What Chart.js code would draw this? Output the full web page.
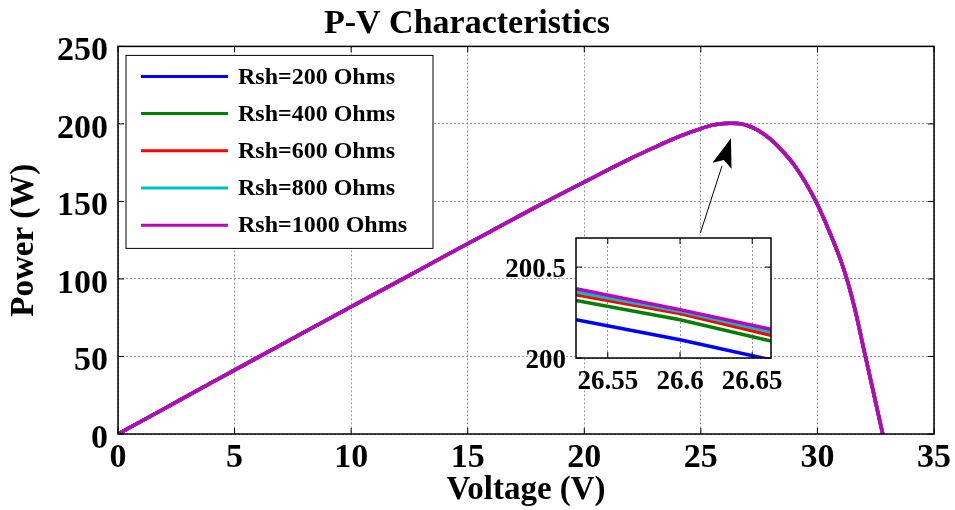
<!DOCTYPE html>
<html>
<head>
<meta charset="utf-8">
<script src="https://cdn.jsdelivr.net/npm/chart.js@4.4.1/dist/chart.umd.min.js"></script>
<style>
  body { margin: 0; background: #fff; }
  #wrap { position: relative; width: 955px; height: 510px; }
  #main { position: absolute; left: 0; top: 0; }
  #zoom { position: absolute; left: 480px; top: 222px; }
</style>
</head>
<body>
<div id="wrap">
  <canvas id="main" width="955" height="510"></canvas>
  <canvas id="zoom" width="310" height="178"></canvas>
</div>
<script>
// P-V curve (the five Rsh curves are on top of each other at this scale)
var voltage = [0, 2, 4, 6, 8, 10, 12, 14, 16, 18, 20, 21, 22, 23, 24, 25, 25.5, 26, 26.3, 26.6,
               27, 27.5, 28, 28.5, 29, 29.5, 30, 30.5, 31, 31.3, 31.6, 32, 32.4, 32.8];
var power = [0, 16.5, 33, 49.4, 65.8, 82.1, 98.3, 114.6, 130.8, 147, 162.5, 170.3, 177.8, 184.8, 191.5, 197, 199.2, 200.2, 200.4, 200.3,
             199, 195.5, 190, 182.5, 173.5, 162, 148, 131, 112, 98, 81, 54, 27, 0];

var seriesNames = ['Rsh=200 Ohms', 'Rsh=400 Ohms', 'Rsh=600 Ohms', 'Rsh=800 Ohms', 'Rsh=1000 Ohms'];
var seriesColors = ['#0000ff', '#008000', '#ff0000', '#00bfbf', '#bf00bf'];

// close-up just past the maximum power point
var zoomVoltage = [26.528, 26.6, 26.663];
var zoomPower = [
  [200.21, 200.10, 199.99],
  [200.317, 200.21, 200.093],
  [200.348, 200.244, 200.125],
  [200.363, 200.257, 200.143],
  [200.381, 200.266, 200.158]
];

var xTicksMain = { min: 0, max: 35, step: 5 };
var yTicksMain = { min: 0, max: 250, step: 50 };
var xTicksZoom = { min: 26.528, max: 26.663, step: 0.05 };
var yTicksZoom = { min: 200, max: 200.66, step: 0.5 };

// arrow pointing from the close-up to the peak [V, P]
var arrowFrom = [24.98, 129.7];
var arrowTo = [26.29, 190.8];

Chart.defaults.font.family = '"Times New Roman", "Liberation Serif", serif';
Chart.defaults.font.weight = 'bold';
Chart.defaults.color = '#000';

function points(xs, ys) {
  return xs.map(function (x, i) { return { x: x, y: ys[i] }; });
}

function line(ctx, x1, y1, x2, y2) {
  ctx.beginPath();
  ctx.moveTo(x1, y1);
  ctx.lineTo(x2, y2);
  ctx.stroke();
}

// white background, box around the axes and inward tick marks
function framePlugin(fillAll) {
  return {
    id: 'frame',
    beforeDraw: function (chart) {
      var ctx = chart.ctx, a = chart.chartArea;
      ctx.save();
      ctx.fillStyle = '#fff';
      if (fillAll) ctx.fillRect(0, 0, chart.width, chart.height);
      else ctx.fillRect(a.left, a.top, a.right - a.left, a.bottom - a.top);
      ctx.restore();
    },
    afterDatasetsDraw: function (chart) {
      var ctx = chart.ctx, a = chart.chartArea, sx = chart.scales.x, sy = chart.scales.y;
      ctx.save();
      ctx.strokeStyle = '#000';
      ctx.lineWidth = 1;
      sx.ticks.forEach(function (t) {
        var p = sx.getPixelForValue(t.value);
        line(ctx, p, a.bottom, p, a.bottom - 6);
        line(ctx, p, a.top, p, a.top + 6);
      });
      sy.ticks.forEach(function (t) {
        var p = sy.getPixelForValue(t.value);
        line(ctx, a.left, p, a.left + 6, p);
        line(ctx, a.right, p, a.right - 6, p);
      });
      ctx.lineWidth = 1.5;
      ctx.strokeRect(a.left, a.top, a.right - a.left, a.bottom - a.top);
      ctx.restore();
    }
  };
}

var legendBox = {
  id: 'legendBox',
  afterDraw: function (chart) {
    var ctx = chart.ctx, a = chart.chartArea;
    var x = a.left + 8, y = a.top + 9, w = 307, h = 193;
    ctx.save();
    ctx.fillStyle = '#fff';
    ctx.fillRect(x, y, w, h);
    ctx.strokeStyle = '#000';
    ctx.lineWidth = 1;
    ctx.strokeRect(x, y, w, h);
    ctx.font = 'bold 24px "Times New Roman", "Liberation Serif", serif';
    ctx.textBaseline = 'middle';
    // legend rows follow the dataset list, blue first
    seriesNames.forEach(function (name, i) {
      var ry = y + 21 + i * 37.2;
      ctx.strokeStyle = seriesColors[i];
      ctx.lineWidth = 3;
      line(ctx, x + 15, ry, x + 102, ry);
      ctx.fillStyle = '#000';
      ctx.fillText(name, x + 112, ry + 1);
    });
    ctx.restore();
  }
};

var arrowPlugin = {
  id: 'arrow',
  afterDraw: function (chart) {
    var ctx = chart.ctx, sx = chart.scales.x, sy = chart.scales.y;
    var x1 = sx.getPixelForValue(arrowFrom[0]), y1 = sy.getPixelForValue(arrowFrom[1]);
    var x2 = sx.getPixelForValue(arrowTo[0]), y2 = sy.getPixelForValue(arrowTo[1]);
    var ang = Math.atan2(y2 - y1, x2 - x1);
    var len = 29, half = 10;
    var bx = x2 - len * Math.cos(ang), by = y2 - len * Math.sin(ang);
    ctx.save();
    ctx.strokeStyle = '#000';
    ctx.fillStyle = '#000';
    ctx.lineWidth = 1;
    line(ctx, x1, y1, bx, by);
    ctx.beginPath();
    ctx.moveTo(x2, y2);
    ctx.lineTo(bx + half * Math.sin(ang), by - half * Math.cos(ang));
    ctx.lineTo(x2 - (len - 6) * Math.cos(ang), y2 - (len - 6) * Math.sin(ang));
    ctx.lineTo(bx - half * Math.sin(ang), by + half * Math.cos(ang));
    ctx.closePath();
    ctx.fill();
    ctx.restore();
  }
};

var gridStyle = { color: '#999', lineWidth: 1, drawTicks: false };
var borderStyle = { display: false, dash: [2, 2] };

// lower "order" is drawn on top, so the 1000 Ohm curve ends up in front
function makeDatasets(xs, ysFor) {
  return seriesNames.map(function (name, i) {
    return {
      label: name,
      data: points(xs, ysFor(i)),
      borderColor: seriesColors[i],
      borderWidth: 3.5,
      pointRadius: 0,
      order: seriesNames.length - 1 - i
    };
  });
}

var mainSets = makeDatasets(voltage, function () { return power; });
mainSets.forEach(function (ds) { ds.cubicInterpolationMode = 'monotone'; });

new Chart(document.getElementById('main'), {
  type: 'line',
  data: { datasets: mainSets },
  options: {
    responsive: false,
    animation: false,
    layout: { padding: { left: 0, right: 21, top: 0, bottom: 0 } },
    plugins: {
      legend: { display: false },
      tooltip: { enabled: false },
      title: {
        display: true,
        text: 'P-V Characteristics',
        font: { size: 34, weight: 'bold' },
        color: '#000',
        padding: { top: 4, bottom: 1.6 }
      }
    },
    scales: {
      x: {
        type: 'linear',
        min: xTicksMain.min, max: xTicksMain.max,
        ticks: { stepSize: xTicksMain.step, font: { size: 34 }, padding: 4, maxRotation: 0 },
        grid: gridStyle,
        border: borderStyle,
        title: { display: true, text: 'Voltage (V)', font: { size: 33 }, padding: { top: 0, bottom: 0 } },
        afterFit: function (s) { s.height = 76; }
      },
      y: {
        min: yTicksMain.min, max: yTicksMain.max,
        ticks: { stepSize: yTicksMain.step, font: { size: 34 }, padding: 10, labelOffset: 5 },
        grid: gridStyle,
        border: borderStyle,
        title: { display: true, text: 'Power (W)', font: { size: 33 }, padding: { top: 5, bottom: 0 } },
        afterFit: function (s) { s.width = 118; }
      }
    }
  },
  plugins: [framePlugin(true), arrowPlugin, legendBox]
});

// the close-up axes sit at a fixed spot, so drop the label overhang padding
new Chart(document.getElementById('zoom'), {
  type: 'line',
  data: { datasets: makeDatasets(zoomVoltage, function (i) { return zoomPower[i]; }) },
  options: {
    responsive: false,
    animation: false,
    layout: { padding: { left: 0, right: 19, top: 16, bottom: 0 } },
    plugins: { legend: { display: false }, tooltip: { enabled: false } },
    scales: {
      x: {
        type: 'linear',
        min: xTicksZoom.min, max: xTicksZoom.max,
        ticks: {
          stepSize: xTicksZoom.step, includeBounds: false, font: { size: 27 }, padding: 8, maxRotation: 0,
          callback: function (v) { return String(parseFloat(v.toFixed(2))); }
        },
        grid: gridStyle,
        border: borderStyle,
        afterFit: function (s) { s.height = 42; s.paddingLeft = 0; s.paddingRight = 0; }
      },
      y: {
        min: yTicksZoom.min, max: yTicksZoom.max,
        ticks: {
          stepSize: yTicksZoom.step, includeBounds: false, font: { size: 27 }, padding: 10, labelOffset: 3,
          callback: function (v) { return String(parseFloat(v.toFixed(2))); }
        },
        grid: gridStyle,
        border: borderStyle,
        afterFit: function (s) { s.width = 96; s.paddingTop = 0; s.paddingBottom = 0; }
      }
    }
  },
  plugins: [framePlugin(false)]
});
</script>
</body>
</html>
